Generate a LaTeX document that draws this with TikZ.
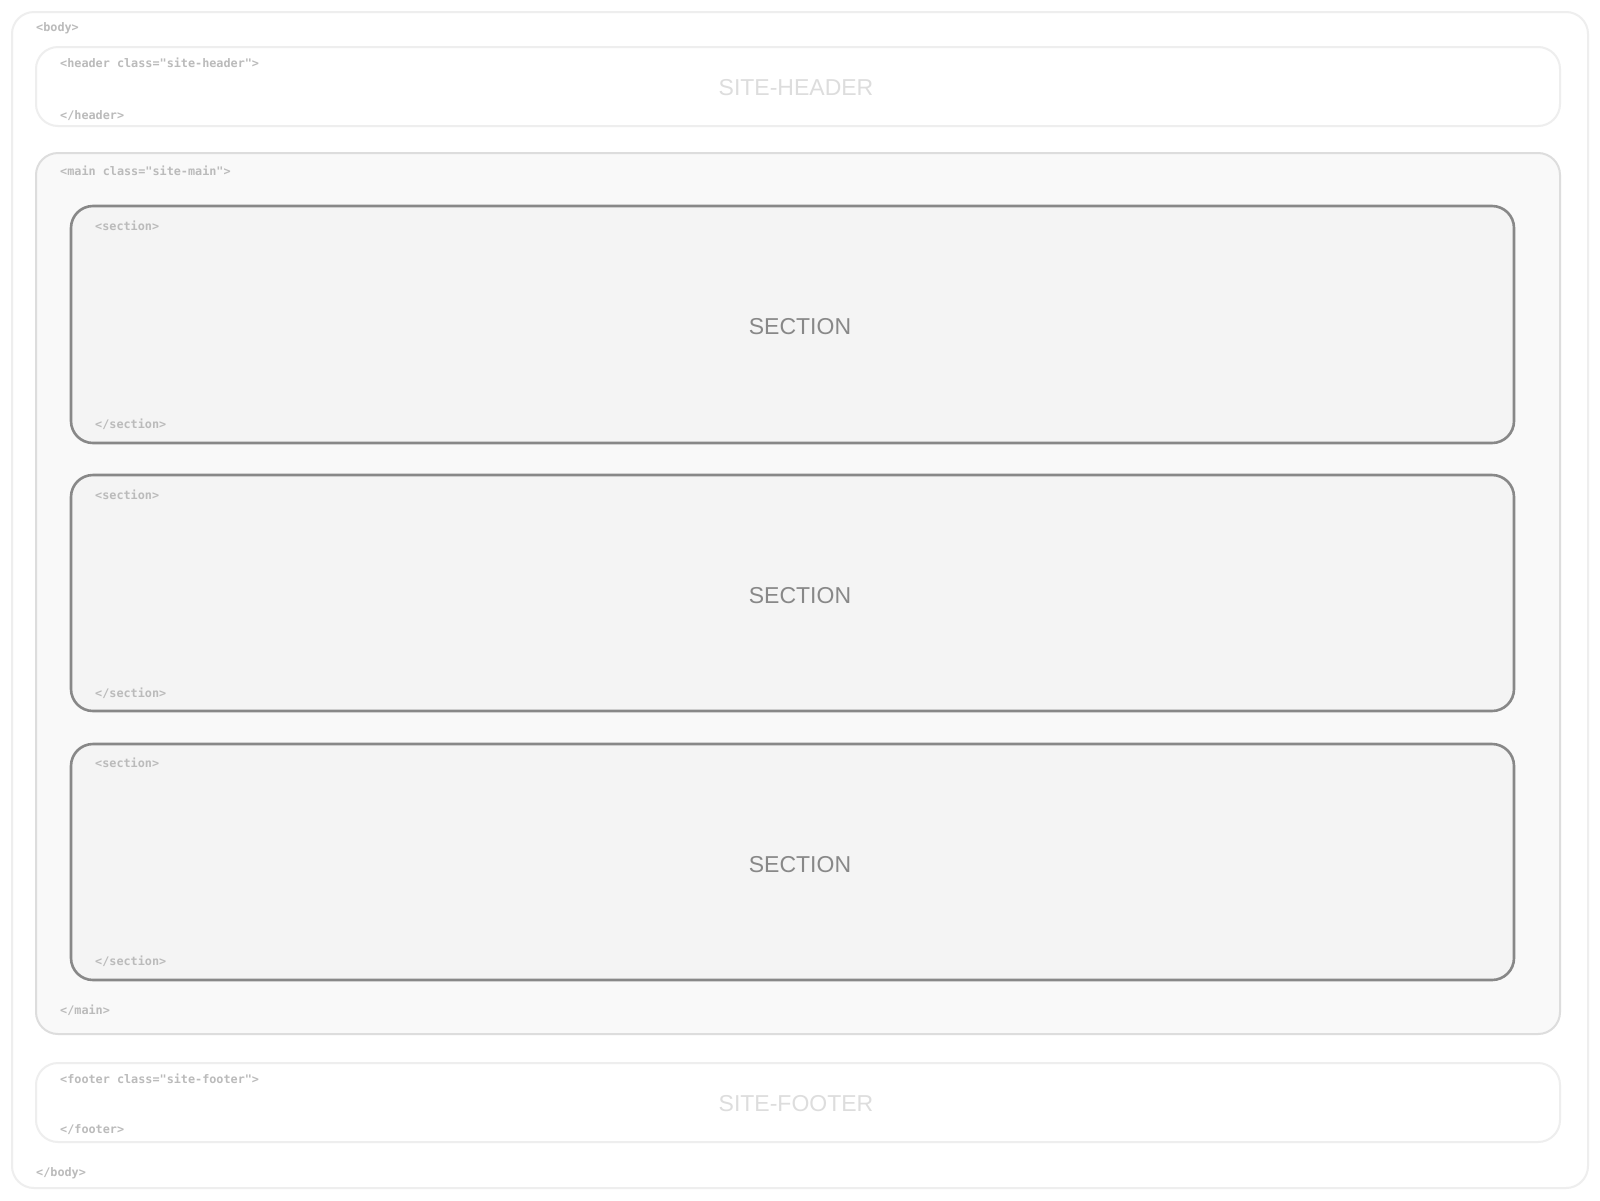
\documentclass[tikz,border=0pt]{standalone}
\usepackage{fontspec}
\setmainfont{Liberation Sans}
\newfontfamily\tagfont{DejaVu Sans Mono}
\definecolor{bodyline}{HTML}{EEEEEE}
\definecolor{mainline}{HTML}{DDDDDD}
\definecolor{mainfill}{HTML}{F9F9F9}
\definecolor{secline}{HTML}{888888}
\definecolor{secfill}{HTML}{F4F4F4}
\definecolor{tagcol}{HTML}{BBBBBB}
\definecolor{secText}{HTML}{888888}
\definecolor{faintText}{HTML}{DDDDDD}
\tikzset{
  bodybox/.style={draw=bodyline, line width=2pt, rounded corners=22pt, fill=white},
  hfbox/.style={draw=bodyline, line width=2pt, rounded corners=22pt, fill=white},
  mainbox/.style={draw=mainline, line width=2pt, rounded corners=22pt, fill=mainfill},
  secbox/.style={draw=secline, line width=2.6pt, rounded corners=22pt, fill=secfill},
  tag/.style={anchor=mid west, inner sep=0pt, yshift=-2pt, text=tagcol, font=\tagfont\bfseries\fontsize{11.8}{13}\selectfont},
  bigsec/.style={anchor=mid, inner sep=0pt, yshift=-6pt, text=secText, font=\fontsize{23}{26}\selectfont},
  bigfaint/.style={anchor=mid, inner sep=0pt, yshift=-6pt, text=faintText, font=\fontsize{23}{26}\selectfont},
}
\begin{document}
\begin{tikzpicture}[x=1pt,y=-1pt]
\path[fill=white] (0,0) rectangle (1600,1200);
\useasboundingbox (0,0) rectangle (1600,1200);
% body
\draw[bodybox] (12,12) rectangle (1588,1188);
\node[tag] (bodyo) at (36,27) {<body>};
\node[tag] (bodyc) at (36,1172) {</body>};
% header
\draw[hfbox] (36,47) rectangle (1560,126);
\node[tag] (heado) at (60,63) {<header class="site-header">};
\node[tag] (headc) at (60,115) {</header>};
\node[bigfaint] (headt) at (796,87) {SITE-HEADER};
% main
\draw[mainbox] (36,153) rectangle (1560,1034);
\node[tag] (maino) at (60,171) {<main class="site-main">};
\node[tag] (mainc) at (60,1010) {</main>};
% sections
\draw[secbox] (71,206) rectangle (1514,443);
\node[tag] (s1o) at (95,226) {<section>};
\node[tag] (s1c) at (95,424) {</section>};
\node[bigsec] (s1t) at (800,326) {SECTION};
\draw[secbox] (71,475) rectangle (1514,711);
\node[tag] (s2o) at (95,495) {<section>};
\node[tag] (s2c) at (95,693) {</section>};
\node[bigsec] (s2t) at (800,595) {SECTION};
\draw[secbox] (71,744) rectangle (1514,980);
\node[tag] (s3o) at (95,763) {<section>};
\node[tag] (s3c) at (95,961) {</section>};
\node[bigsec] (s3t) at (800,864) {SECTION};
% footer
\draw[hfbox] (36,1063) rectangle (1560,1142);
\node[tag] (footo) at (60,1079) {<footer class="site-footer">};
\node[tag] (footc) at (60,1129) {</footer>};
\node[bigfaint] (foott) at (796,1103) {SITE-FOOTER};
\end{tikzpicture}
\end{document}
